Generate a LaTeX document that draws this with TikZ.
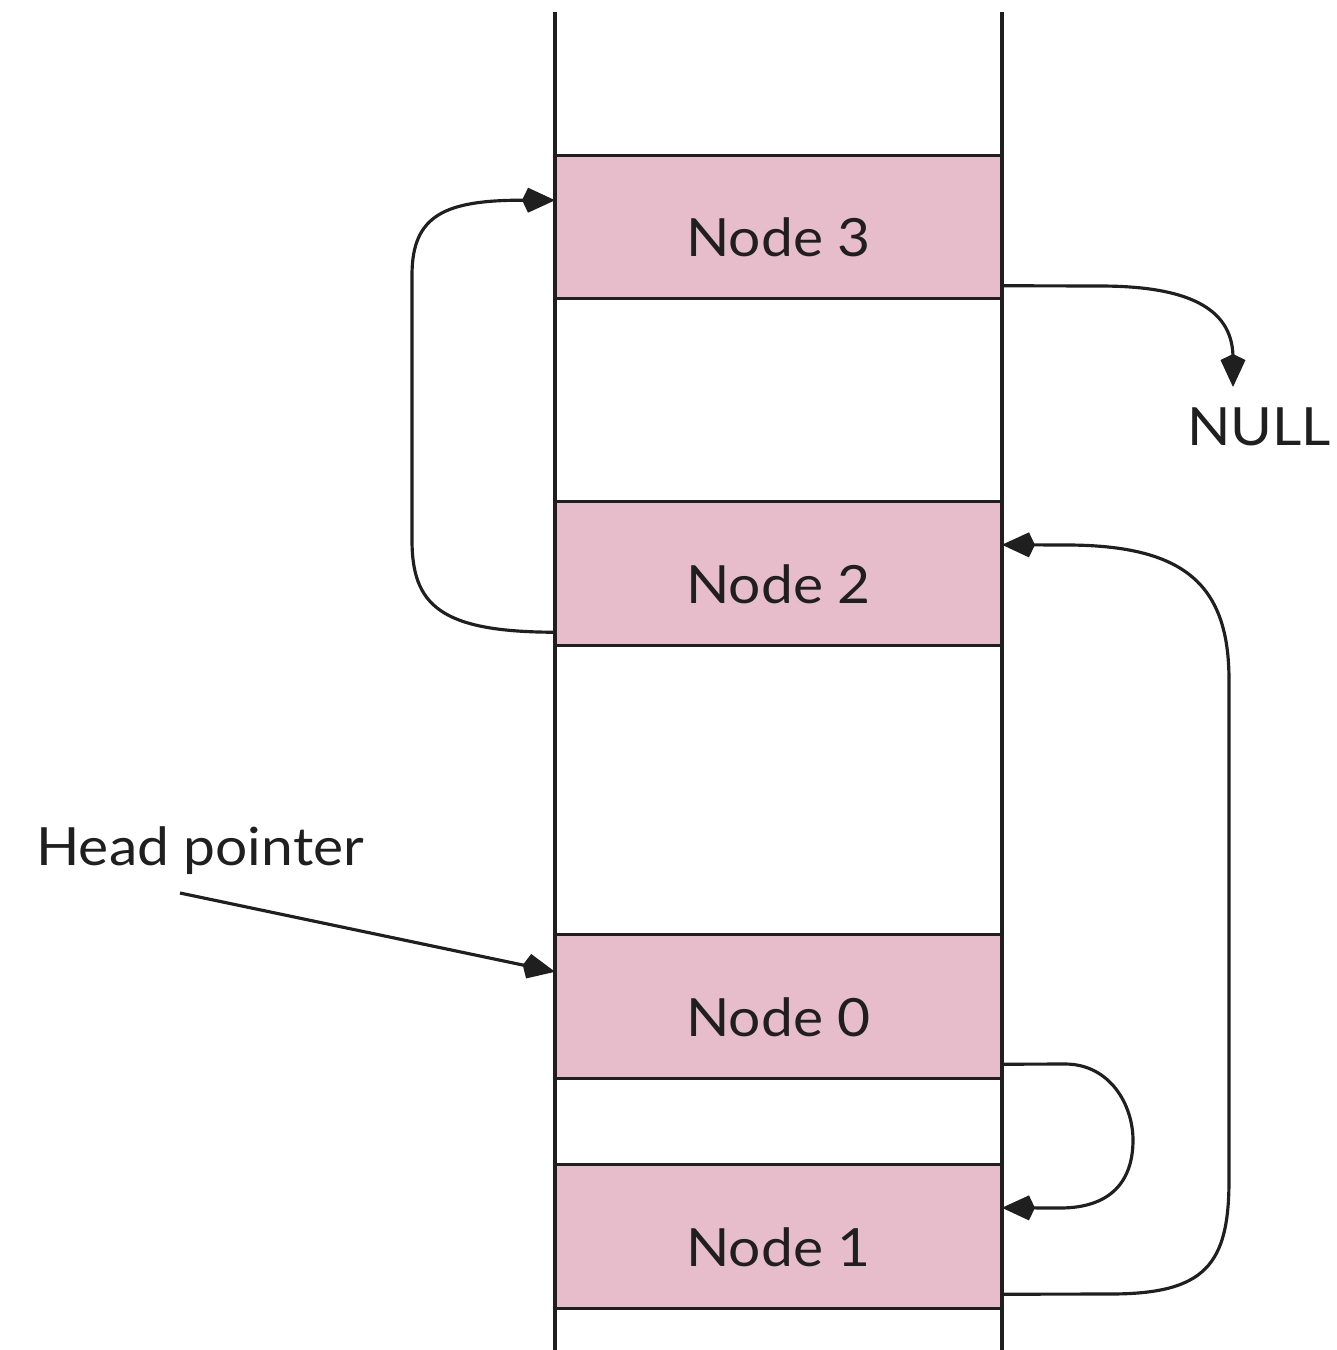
\documentclass[tikz,border=0pt]{standalone}
\usepackage{fontspec}
\setmainfont[FakeStretch=1.08]{Lato}
\usetikzlibrary{arrows.meta,calc}
\definecolor{boxpink}{HTML}{E8BDCB}
\definecolor{ink}{HTML}{1F1F1F}
\tikzset{
  membox/.style={draw=ink, fill=boxpink, line width=1.8pt, minimum width=8.94cm, minimum height=2.87cm, inner sep=0pt, outer sep=0pt},
  lbl/.style={text=ink, font=\fontsize{30}{36}\selectfont, inner sep=0pt, anchor=base},
  link/.style={draw=ink, line width=1.8pt, -{Kite[length=0.66cm,width=0.5cm,inset=0.12cm]}},
  rail/.style={draw=ink, line width=1.8pt}
}
\begin{document}
\begin{tikzpicture}[x=0.02cm,y=-0.02cm]
\useasboundingbox (0,0) rectangle (1337,1350);
% boxes
\node[membox] (n3) at (778.5,227) {};
\node[membox] (n2) at (778.5,573.5) {};
\node[membox] (n0) at (778.5,1006.5) {};
\node[membox] (n1) at (778.5,1236.5) {};
% rails
\draw[rail] (555,12) -- (555,1350);
\draw[rail] (1002,12) -- (1002,1350);
% labels
\node[lbl] (t3) at ($(n3.south)+(0,-42)$) {Node 3};
\node[lbl] (t2) at ($(n2.south)+(0,-42)$) {Node 2};
\node[lbl] (t0) at ($(n0.south)+(0,-42)$) {Node 0};
\node[lbl] (t1) at ($(n1.south)+(0,-42)$) {Node 1};
\node[lbl] (null) at (1259,445) {NULL};
\node[lbl, anchor=base west] (head) at (36,865) {Head pointer};
\coordinate (hs) at (180,893);
% connectors
\draw[link] ($(n2.south west)+(0,-13)$) .. controls (440,632) and (412,605) .. (412,540)
  -- (412,275) .. controls (412,215) and (445,200) .. ($(n3.north west)+(0,45)$);
\draw[link] ($(n3.south east)+(0,-13)$) -- (1100,286) .. controls (1195,286) and (1233,312) .. (1233,358) -- (1233,387);
\draw[link] ($(n1.south east)+(0,-14)$) -- (1110,1294) .. controls (1205,1294) and (1229,1265) .. (1229,1180)
  -- (1229,680) .. controls (1229,585) and (1185,546) .. (1070,545) -- ($(n2.north east)+(0,43)$);
\draw[link] ($(n0.south east)+(0,-14)$) -- (1065,1064) .. controls (1110,1064) and (1133,1105) .. (1133,1140)
  .. controls (1133,1182) and (1110,1208) .. (1060,1208) -- ($(n1.north east)+(0,43)$);
\draw[link] (hs) -- ($(n0.north west)+(0,37)$);
\end{tikzpicture}
\end{document}
